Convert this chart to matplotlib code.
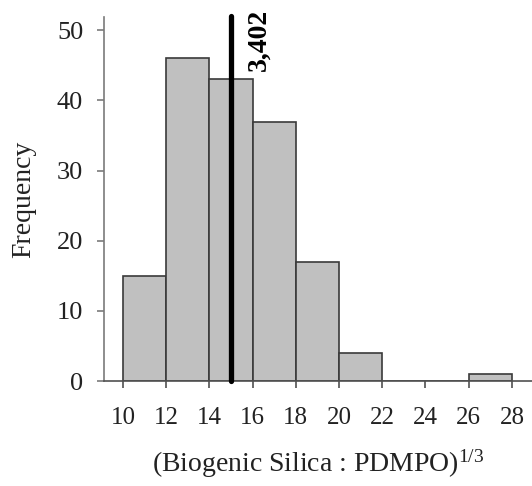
import matplotlib
matplotlib.use("Agg")
import matplotlib.pyplot as plt

plt.rcParams["font.family"] = ["Liberation Serif", "DejaVu Serif"]
plt.rcParams["mathtext.fontset"] = "custom"
plt.rcParams["mathtext.rm"] = "Liberation Serif"
plt.rcParams["mathtext.it"] = "Liberation Serif:italic"
plt.rcParams["mathtext.bf"] = "Liberation Serif:bold"

bin_edges = [10, 12, 14, 16, 18, 20, 22, 24, 26, 28]
counts = [15, 46, 43, 37, 17, 4, 0, 0, 1]
threshold = 15.0
threshold_label = "3,402"
x_ticks = [10, 12, 14, 16, 18, 20, 22, 24, 26, 28]
y_ticks = [0, 10, 20, 30, 40, 50]

fig = plt.figure(figsize=(5.32, 4.86), dpi=100)
ax = fig.add_axes([104 / 532, 105 / 486, 1 - 104 / 532, (381 - 17) / 486])

ax.bar(bin_edges[:-1], counts, width=2, align="edge",
       color="#c0c0c0", edgecolor="#3a3a3a", linewidth=1.2, zorder=2)
ax.plot([threshold, threshold], [0, 52], color="black", linewidth=3.8,
        solid_capstyle="round", zorder=3, clip_on=False)
ax.text(16.3, 44.2, threshold_label, rotation=90, ha="center", va="bottom",
        fontsize=20, fontweight="bold", color="black")

ax.set_xlim(9.12, 28.93)
ax.set_ylim(0, 51.9)
ax.set_xticks(x_ticks)
ax.set_yticks(y_ticks)

for side in ("top", "right"):
    ax.spines[side].set_visible(False)
ax.spines["left"].set_color("#7a7a7a")
ax.spines["bottom"].set_color("#505050")
ax.spines["left"].set_linewidth(1.2)
ax.spines["bottom"].set_linewidth(1.2)

ax.tick_params(axis="y", direction="out", length=5, width=1.2, color="#7a7a7a",
               labelsize=19, pad=10, labelcolor="#222222")
ax.tick_params(axis="x", direction="out", length=5, width=1.2, color="#505050",
               labelsize=18, pad=14, labelcolor="#222222")

ax.set_ylabel("Frequency", fontsize=20, labelpad=15, color="#222222")
ax.set_xlabel(r"(Biogenic Silica : PDMPO)$^{1/3}$", fontsize=20,
              labelpad=13, color="#222222")

fig.savefig("out.png", dpi=100)
